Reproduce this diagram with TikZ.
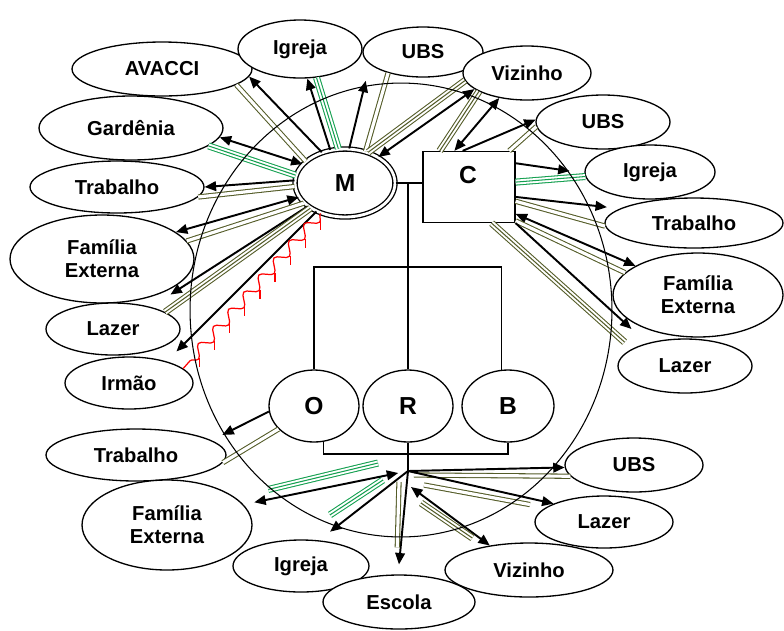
\documentclass[tikz,border=0pt]{standalone}
\usepackage{fontspec}
\setmainfont{Liberation Sans}
\usetikzlibrary{arrows.meta,shapes.geometric,decorations.pathmorphing,calc}

\definecolor{olivel}{RGB}{84,92,40}
\definecolor{greenl}{RGB}{20,160,80}

\tikzset{
  ent/.style 2 args={ellipse, draw, fill=white, line width=0.75pt, inner sep=0pt, align=center,
    minimum width=#1cm, minimum height=#2cm, font=\bfseries\fontsize{11.5}{13}\selectfont},
  memb/.style={ellipse, draw, fill=white, line width=0.75pt, inner sep=0pt,
    minimum width=1.8cm, minimum height=1.44cm, font=\bfseries\fontsize{14}{16}\selectfont},
  box/.style={rectangle, draw, fill=white, line width=0.75pt, minimum width=1.84cm, minimum height=1.42cm},
  boxlbl/.style={inner sep=0pt, font=\bfseries\fontsize{14}{16}\selectfont},
  one/.style={->, line width=1.1pt},
  both/.style={<->, line width=1.1pt},
  two/.style={draw=#1, line width=0.6pt, double=white, double distance=1.8pt},
  two/.default=olivel,
  three/.style={draw=#1, line width=0.6pt, double=white, double distance=2.8pt,
    postaction={draw=#1, line width=0.6pt}},
  three/.default=olivel,
  conflict/.style={draw=red, line width=0.7pt, decorate,
    decoration={snake, segment length=13pt, amplitude=3pt}}
}

\begin{document}
\begin{tikzpicture}[x=0.02cm, y=-0.02cm, >={Triangle[length=6.5pt,width=5.5pt]}]
  \useasboundingbox (0,0) rectangle (784,630);

  % the family
  \node[memb, double, double distance=1.6pt, minimum width=2.0cm, minimum height=1.36cm] (M) at (345,183) {M};
  \node[box] (C) at (469,187) {};
  \node[boxlbl] (Clbl) at (468,175) {C};
  \node[memb] (O) at (314,406) {O};
  \node[memb] (R) at (408,406) {R};
  \node[memb, minimum width=1.84cm] (B) at (508,406) {B};
  \coordinate (frame) at (408,267);
  \coordinate (bar) at (408,454);
  \coordinate (hub) at (408,471);

  \draw[line width=0.6pt] (M.east) -- (M.east -| C.west);
  \draw[line width=0.6pt] (M.east -| R.north) -- (R.north);
  \draw[line width=0.6pt] (O.north) |- (frame) -| (B.100);
  \draw[line width=0.6pt] (O.-75) |- (bar) -| (B.south);
  \draw[line width=0.6pt] (R.south) -- (hub);

  % the world around them
  \node[ent={3.6}{1.08}]  (avacci)  at (162,69)  {AVACCI};
  \node[ent={2.48}{1.16}] (igreja1) at (300,49)  {Igreja};
  \node[ent={2.4}{1.0}]   (ubs1)    at (423,52)  {UBS};
  \node[ent={2.56}{1.08}] (viz1)    at (527,73)  {Vizinho};
  \node[ent={2.68}{1.08}] (ubs2)    at (603,122) {UBS};
  \node[ent={2.6}{1.08}]  (igreja2) at (650,172) {Igreja};
  \node[ent={3.56}{1.0}]  (trab2)   at (694,223) {Trabalho};
  \node[ent={3.4}{1.68}]  (famext2) at (698,295) {Família\\Externa};
  \node[ent={2.68}{1.08}] (lazer2)  at (685,366) {Lazer};
  \node[ent={3.68}{1.28}] (gard)    at (131,128) {Gardênia};
  \node[ent={3.48}{1.04}] (trab1)   at (117,187) {Trabalho};
  \node[ent={3.68}{1.76}] (famext1) at (102,259) {Família\\Externa};
  \node[ent={2.68}{1.04}] (lazer1)  at (113,329) {Lazer};
  \node[ent={2.56}{1.04}] (irmao)   at (129,383) {Irmão};
  \node[ent={3.6}{1.04}]  (trab3)   at (136,455) {Trabalho};
  \node[ent={3.4}{1.8}]   (famext3) at (167,525) {Família\\Externa};
  \node[ent={2.72}{1.04}] (igreja3) at (301,566) {Igreja};
  \node[ent={3.04}{1.08}] (escola)  at (399,602) {Escola};
  \node[ent={3.36}{1.08}] (viz3)    at (529,570) {Vizinho};
  \node[ent={2.76}{1.04}] (lazer3)  at (604,522) {Lazer};
  \node[ent={2.76}{1.08}] (ubs3)    at (634,465) {UBS};

  % M
  \draw[one] (M.127) -- (avacci.-5);
  \draw[two] (M.151) -- (avacci.-12);
  \draw[one] (M.114) -- (igreja1.-76);
  \draw[three=greenl] (M.101) -- (igreja1.-60);
  \draw[one, shorten >=0.34cm] (M.83) -- (ubs1.193);
  \draw[two] (M.57) -- (ubs1.211);
  \draw[both] (M.38) -- (viz1.197);
  \draw[three] (M.53) -- (viz1.187);
  \draw[both] (gard.-6) -- (M.156);
  \draw[three=greenl] (gard.-13) -- (M.171);
  \draw[one] (M.177) -- (trab1.0);
  \draw[two] (M.184) -- (trab1.-7);
  \draw[both] (famext1.20) -- (M.197);
  \draw[two] (famext1.12) -- (M.206);
  \draw[one, shorten >=0.46cm] (M.212) -- (lazer1.30);
  \draw[three] (M.216) -- (lazer1.18);
  \draw[one, shorten >=0.28cm] (M.225) -- (irmao.30);
  \draw[conflict] (M.231) -- (irmao.15);
  % the little teeth under the red line
  \foreach \t in {0.03,0.14,...,0.92}
    \draw[red, line width=0.7pt] ($(M.231)!\t!(irmao.15)$) ++(4,3.5) -- ++(0,9);

  % C
  \draw[both] (C.112) -- (viz1.222);
  \draw[three] (C.129) -- (viz1.201);
  \draw[one] (C.100) -- (ubs2.178);
  \draw[two] (C.42) -- (ubs2.184);
  \draw[one, shorten >=0.3cm] (C.27) -- (igreja2.181);
  \draw[three=greenl] (C.6) -- (igreja2.184);
  \draw[one, shorten >=0.26cm] (C.-12) -- (trab2.169);
  \draw[two] (C.-17) -- (trab2.182);
  \draw[both] (C.-30) -- (famext2.155);
  \draw[two] (C.-36) -- (famext2.163);
  \draw[one, shorten >=0.42cm] (C.south east) -- (lazer2.149);
  \draw[three, shorten >=0.2cm] (C.-58) -- (lazer2.162);

  % O
  \draw[one, shorten >=0.24cm] (O.187) -- (trab3.11);
  \draw[two] (O.213) -- (trab3.-5);

  % the children together
  \draw[one] (hub) -- (ubs3.182);
  \draw[two] ([shift={(6,4)}]hub) -- (ubs3.190);
  \draw[one] (hub) -- (lazer3.160);
  \draw[two, shorten >=0.32cm] ([shift={(16,14)}]hub) -- (lazer3.166);
  \draw[both] ([shift={(3,16)}]hub) -- (viz3.148);
  \draw[three, shorten >=0.3cm] ([shift={(13,32)}]hub) -- (viz3.152);
  \draw[one, shorten >=0.2cm] (hub) -- (escola.92);
  \draw[two, shorten >=0.54cm] ([shift={(-9,11)}]hub) -- (escola.95);
  \draw[one, shorten >=0.28cm] (hub) -- (igreja3.55);
  \draw[three=greenl, shorten >=0.9cm] ([shift={(-25,9)}]hub) -- (igreja3.108);
  \draw[both, shorten <=0.2cm, shorten >=0.22cm] (hub) -- (famext3.15);
  \draw[three=greenl, shorten >=0.68cm] ([shift={(-30,-8)}]hub) -- (famext3.22);

  % the big circle, drawn last so the lines do not cut it
  \draw[line width=0.6pt] (401,310) ellipse [x radius=4.22cm, y radius=4.54cm];
\end{tikzpicture}
\end{document}
